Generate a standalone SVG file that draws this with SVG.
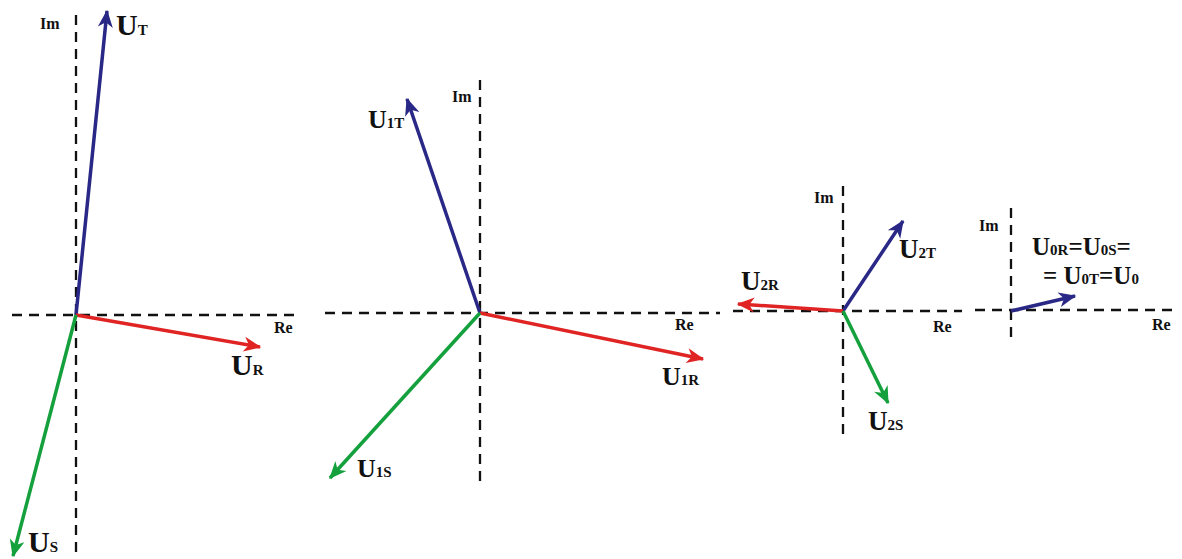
<svg xmlns="http://www.w3.org/2000/svg" width="1182" height="559" viewBox="0 0 1182 559">
<style>
.ax{stroke:#111;stroke-width:2.3;stroke-dasharray:10 7;fill:none}
.v{stroke-width:3.5;fill:none;stroke-linecap:butt}
.b{stroke:#2a2886}.r{stroke:#e02424}.g{stroke:#14a03c}
text{font-family:"Liberation Serif","Times New Roman",serif;font-weight:bold;fill:#111}
.axl{font-size:16px}
.U1{font-size:30px}
.U2{font-size:26px}
.U3{font-size:27px}
.U4{font-size:25px}
.s{font-size:15px}
</style>
<defs>
<marker id="mb" markerUnits="userSpaceOnUse" markerWidth="20" markerHeight="20" viewBox="-14 -7 16 14" refX="0" refY="0" orient="auto"><path d="M1,0 L-13,-6 L-9,0 L-13,6 Z" fill="#2a2886"/></marker>
<marker id="mr" markerUnits="userSpaceOnUse" markerWidth="20" markerHeight="20" viewBox="-14 -7 16 14" refX="0" refY="0" orient="auto"><path d="M1,0 L-13,-6 L-9,0 L-13,6 Z" fill="#e02424"/></marker>
<marker id="mg" markerUnits="userSpaceOnUse" markerWidth="20" markerHeight="20" viewBox="-14 -7 16 14" refX="0" refY="0" orient="auto"><path d="M1,0 L-13,-6 L-9,0 L-13,6 Z" fill="#14a03c"/></marker>
</defs>
<g id="axes">
<line class="ax" x1="76" y1="15" x2="76" y2="559"/>
<line class="ax" x1="12" y1="315" x2="300" y2="315"/>
<line class="ax" x1="480" y1="80" x2="480" y2="486"/>
<line class="ax" x1="325" y1="313" x2="720" y2="313"/>
<line class="ax" x1="843" y1="186" x2="843" y2="440"/>
<line class="ax" x1="733" y1="311" x2="962" y2="311"/>
<line class="ax" x1="1011" y1="208" x2="1011" y2="338"/>
<line class="ax" x1="975" y1="310" x2="1172" y2="310"/>
</g>
<g id="connectors">
<line class="v b" x1="76" y1="315" x2="107" y2="11" marker-end="url(#mb)"/>
<line class="v r" x1="76" y1="315" x2="260" y2="347" marker-end="url(#mr)"/>
<line class="v g" x1="76" y1="315" x2="13" y2="556" marker-end="url(#mg)"/>
<line class="v b" x1="480" y1="313" x2="407" y2="99" marker-end="url(#mb)"/>
<line class="v r" x1="480" y1="313" x2="703" y2="359" marker-end="url(#mr)"/>
<line class="v g" x1="480" y1="313" x2="330" y2="478" marker-end="url(#mg)"/>
<line class="v b" x1="843" y1="311" x2="903" y2="221" marker-end="url(#mb)"/>
<line class="v r" x1="843" y1="311" x2="738" y2="304" marker-end="url(#mr)"/>
<line class="v g" x1="843" y1="311" x2="888" y2="403" marker-end="url(#mg)"/>
<line class="v b" x1="1011" y1="311" x2="1075" y2="296" marker-end="url(#mb)"/>
</g>
<g id="labels1">
<text class="axl" x="40" y="29">Im</text>
<text class="axl" x="274" y="333">Re</text>
<text x="116" y="35"><tspan class="U1">U</tspan><tspan class="s">T</tspan></text>
<text x="231" y="375"><tspan class="U1">U</tspan><tspan class="s">R</tspan></text>
<text x="28" y="552"><tspan class="U1">U</tspan><tspan class="s">S</tspan></text>
</g>
<g id="labels2">
<text class="axl" x="452" y="102">Im</text>
<text class="axl" x="675" y="330">Re</text>
<text x="368" y="128"><tspan class="U2">U</tspan><tspan class="s">1T</tspan></text>
<text x="662" y="385"><tspan class="U2">U</tspan><tspan class="s">1R</tspan></text>
<text x="357" y="477"><tspan class="U2">U</tspan><tspan class="s">1S</tspan></text>
</g>
<g id="labels3">
<text class="axl" x="814" y="203">Im</text>
<text class="axl" x="933" y="332">Re</text>
<text x="899" y="258"><tspan class="U3">U</tspan><tspan class="s">2T</tspan></text>
<text x="741" y="290"><tspan class="U3">U</tspan><tspan class="s">2R</tspan></text>
<text x="868" y="430"><tspan class="U3">U</tspan><tspan class="s">2S</tspan></text>
</g>
<g id="labels4">
<text class="axl" x="979" y="231">Im</text>
<text class="axl" x="1152" y="330">Re</text>
<text x="1032" y="255"><tspan class="U4">U</tspan><tspan class="s">0R</tspan><tspan class="U4">=U</tspan><tspan class="s">0S</tspan><tspan class="U4">=</tspan></text>
<text x="1043" y="284"><tspan class="U4">= U</tspan><tspan class="s">0T</tspan><tspan class="U4">=U</tspan><tspan class="s">0</tspan></text>
</g>
</svg>
